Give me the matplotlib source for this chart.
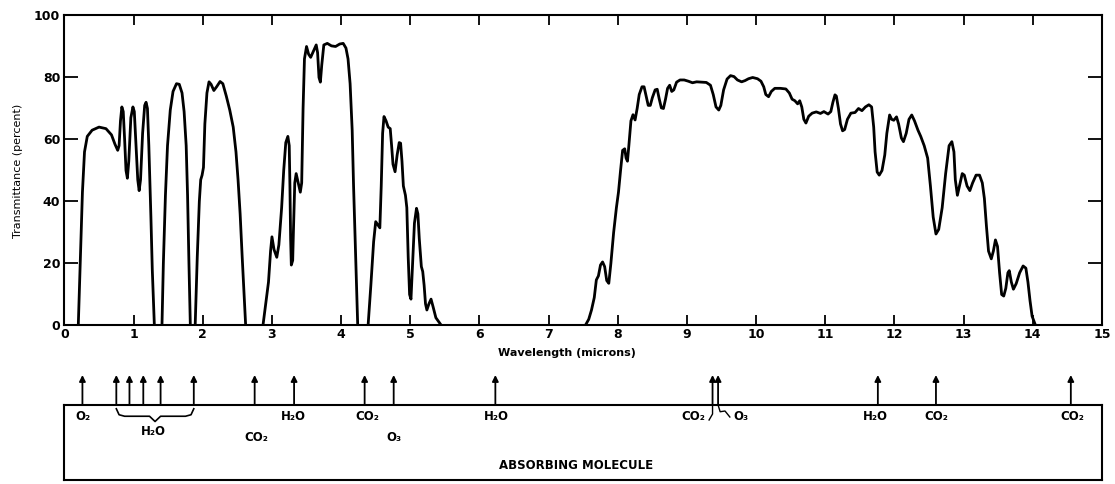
import matplotlib.pyplot as plt

# transmittance curve (wavelength in microns, percent)
wavelength = [
    0.20, 0.23, 0.26, 0.29, 0.33, 0.40, 0.50, 0.60, 0.68, 0.73, 0.77, 0.79, 0.81, 0.83, 0.85, 0.87,
    0.89, 0.91, 0.93, 0.96, 0.99, 1.01, 1.03, 1.06, 1.08, 1.10, 1.13, 1.16, 1.18, 1.20, 1.22, 1.25,
    1.27, 1.30, 1.41, 1.43, 1.46, 1.49, 1.53, 1.57, 1.62, 1.66, 1.70, 1.73, 1.76, 1.78, 1.80, 1.82,
    1.89, 1.92, 1.95, 1.97, 1.99, 2.01, 2.03, 2.06, 2.09, 2.12, 2.16, 2.20, 2.25, 2.29, 2.34, 2.39,
    2.44, 2.48, 2.51, 2.54, 2.57, 2.60, 2.62, 2.87, 2.91, 2.95, 2.98, 3.00, 3.03, 3.07, 3.10, 3.14,
    3.17, 3.20, 3.23, 3.25, 3.26, 3.27, 3.28, 3.30, 3.31, 3.33, 3.35, 3.38, 3.41, 3.43, 3.45, 3.47,
    3.50, 3.53, 3.56, 3.60, 3.64, 3.66, 3.68, 3.70, 3.72, 3.75, 3.80, 3.86, 3.92, 3.98, 4.03, 4.07,
    4.10, 4.13, 4.16, 4.18, 4.21, 4.24, 4.39, 4.43, 4.47, 4.50, 4.53, 4.56, 4.58, 4.60, 4.62, 4.65,
    4.68, 4.71, 4.73, 4.75, 4.78, 4.81, 4.84, 4.86, 4.88, 4.90, 4.93, 4.95, 4.97, 4.99, 5.01, 5.03,
    5.06, 5.09, 5.11, 5.13, 5.16, 5.18, 5.20, 5.22, 5.24, 5.27, 5.30, 5.33, 5.37, 5.45, 7.53, 7.58,
    7.62, 7.66, 7.69, 7.72, 7.75, 7.78, 7.81, 7.84, 7.87, 7.90, 7.94, 7.98, 8.01, 8.04, 8.07, 8.10,
    8.12, 8.14, 8.16, 8.19, 8.22, 8.25, 8.28, 8.31, 8.35, 8.38, 8.41, 8.44, 8.47, 8.50, 8.54, 8.57,
    8.60, 8.63, 8.66, 8.69, 8.72, 8.75, 8.78, 8.81, 8.85, 8.90, 8.96, 9.02, 9.08, 9.14, 9.20, 9.28,
    9.34, 9.38, 9.42, 9.46, 9.49, 9.53, 9.58, 9.63, 9.68, 9.73, 9.79, 9.84, 9.89, 9.95, 10.02, 10.07,
    10.11, 10.14, 10.18, 10.22, 10.27, 10.35, 10.43, 10.48, 10.52, 10.56, 10.60, 10.63, 10.66, 10.69, 10.72, 10.76,
    10.81, 10.87, 10.93, 10.98, 11.04, 11.08, 11.11, 11.14, 11.16, 11.19, 11.22, 11.25, 11.28, 11.32, 11.37, 11.43,
    11.48, 11.53, 11.58, 11.63, 11.67, 11.70, 11.72, 11.75, 11.78, 11.82, 11.86, 11.89, 11.93, 11.96, 11.99, 12.03,
    12.06, 12.10, 12.13, 12.17, 12.21, 12.25, 12.29, 12.34, 12.38, 12.43, 12.48, 12.52, 12.56, 12.60, 12.64, 12.69,
    12.74, 12.79, 12.83, 12.86, 12.88, 12.91, 12.95, 12.98, 13.01, 13.05, 13.09, 13.13, 13.18, 13.23, 13.27, 13.30,
    13.33, 13.36, 13.40, 13.43, 13.46, 13.49, 13.52, 13.55, 13.58, 13.61, 13.64, 13.66, 13.69, 13.72, 13.76, 13.81,
    13.86, 13.90, 13.93, 13.96, 13.99, 14.04,
]
transmittance = [
    0, 22, 43, 56, 61, 63, 64, 63.5, 61.5, 58.5, 56.5, 58, 66, 70.5, 69, 60,
    50, 47.5, 53, 67, 70.5, 69, 60, 47, 43.5, 47, 62, 71, 72, 70, 58, 35,
    18, 0, 0, 20, 42, 58, 69.5, 75.5, 78, 77.8, 75, 69, 58, 42, 20, 0,
    0, 22, 40, 47, 48.5, 51, 65, 75, 78.6, 77.8, 75.8, 77, 78.7, 78, 74, 69.5,
    64, 56, 47, 36, 22, 9, 0, 0, 7, 14, 24, 28.6, 24.5, 22, 26, 38,
    50, 59, 61, 58, 45, 28, 19.5, 21, 30, 46, 49, 46, 43, 46, 70, 86,
    90, 87.5, 86.5, 88.5, 90.5, 88, 80, 78.5, 84, 90.5, 91, 90.2, 90, 90.8, 91, 89.5,
    86, 78, 63, 45, 22, 0, 0, 13, 27, 33.5, 32.5, 31.5, 45, 62, 67.4, 66,
    64, 63.5, 58, 52, 49.6, 55, 59, 58.8, 53, 45, 42, 38, 22, 10, 8.5, 18,
    33, 37.8, 36, 28, 19, 17.4, 13, 7, 5, 7, 8.5, 6, 2.5, 0, 0, 2,
    5, 9, 14.7, 16, 19.5, 20.5, 19, 14.5, 13.6, 20, 30, 38, 43, 50, 56.5, 57,
    54, 53, 58, 66, 68, 66.3, 70, 74.5, 77, 77, 74, 71, 71, 73.5, 76, 76.2,
    73, 70.2, 70, 73, 76.5, 77.5, 75.5, 76, 78.5, 79.2, 79.2, 78.8, 78.3, 78.6, 78.5, 78.4,
    77.5, 74.5, 70.5, 69.5, 71, 76, 79.5, 80.6, 80.3, 79.2, 78.6, 79, 79.6, 80, 79.6, 78.8,
    77, 74.5, 73.8, 75.5, 76.5, 76.5, 76.3, 75, 73, 72.5, 71.5, 72.5, 70.5, 66.5, 65.3, 67.5,
    68.5, 68.9, 68.4, 69, 68.2, 69, 72, 74.4, 74, 70, 65, 62.8, 63.2, 66.5, 68.5, 68.7,
    70, 69.3, 70.5, 71.2, 70.5, 64, 56, 49.5, 48.5, 50, 55, 62, 67.9, 66.5, 66.2, 67.3,
    65, 60.5, 59.3, 62, 66.5, 67.9, 66, 63, 61, 58, 54, 45, 35, 29.5, 31, 38,
    49, 58, 59.3, 56, 47, 42, 46, 49, 48.5, 45, 43.5, 46, 48.5, 48.5, 46, 41,
    32, 24, 21.5, 24, 27.6, 25.5, 17, 10, 9.5, 12, 17, 17.7, 14, 11.7, 13.5, 17,
    19.2, 18.5, 14, 8, 3, 0,
]

# absorption bands marked by arrows under the chart (microns)
band_positions = [0.26, 0.75, 0.94, 1.14, 1.39, 1.87, 2.75, 3.32, 4.34, 4.76,
                  6.23, 9.37, 9.45, 11.76, 12.60, 14.55]
molecule_names = ['O₂', 'H₂O', 'CO₂', 'H₂O', 'CO₂', 'O₃', 'H₂O', 'CO₂', 'O₃',
                  'H₂O', 'CO₂', 'CO₂']
molecule_x = [0.27, 1.28, 2.78, 3.31, 4.38, 4.77, 6.25, 9.09, 9.78, 11.73, 12.60, 14.57]
molecule_row = [0, 1, 2, 0, 0, 2, 0, 0, 0, 0, 0, 0]

row_y = {0: 0.84, 1: 0.65, 2: 0.57}
label_font = dict(fontsize=8.5, fontweight='bold', family='DejaVu Sans')

fig = plt.figure(figsize=(11.15, 4.84), dpi=100)

# main transmittance chart
ax = fig.add_axes([0.0578, 0.3275, 0.9305, 0.6405])
ax.plot(wavelength, transmittance, color='black', linewidth=2.0,
        solid_joinstyle='round', solid_capstyle='round')
ax.set_xlim(0, 15)
ax.set_ylim(0, 100)
ax.set_xticks(range(16))
ax.set_yticks(range(0, 101, 20))
ax.tick_params(direction='in', top=True, right=True, width=1.3, labelsize=9)
ax.tick_params(axis='x', length=7, pad=2)
ax.tick_params(axis='y', length=10, pad=3)
for lbl in ax.get_xticklabels() + ax.get_yticklabels():
    lbl.set_fontweight('bold')
for sp in ax.spines.values():
    sp.set_linewidth(1.5)

ax.set_ylabel('Transmittance (percent)', fontsize=8)
ax.yaxis.set_label_coords(-0.04, 0.5)
ax.set_xlabel('Wavelength (microns)', fontsize=8, fontweight='bold')
ax.xaxis.set_label_coords(0.484, -0.072)

# absorbing molecule box
box = fig.add_axes([0.0578, 1 - 480 / 484, 0.9305, 75 / 484])
box.set_xlim(0, 15)
box.set_ylim(0, 1)
box.set_xticks([])
box.set_yticks([])
for sp in box.spines.values():
    sp.set_linewidth(1.5)

for x in band_positions:
    box.annotate('', xy=(x, 1.40), xytext=(x, 1.0), annotation_clip=False,
                 arrowprops=dict(arrowstyle='-|>', color='black', lw=1.3,
                                 mutation_scale=9, shrinkA=0, shrinkB=0))

for name, x, row in zip(molecule_names, molecule_x, molecule_row):
    box.text(x, row_y[row], name, ha='center', va='center', **label_font)

# brace grouping the near-infrared water bands
x0, x1 = band_positions[1], band_positions[5]
xc = (x0 + x1) / 2
box.plot([x0, x0 + 0.04, x0 + 0.12, xc - 0.08, xc, xc + 0.08, x1 - 0.12, x1 - 0.04, x1],
         [0.95, 0.87, 0.85, 0.85, 0.78, 0.85, 0.85, 0.87, 0.95],
         color='black', lw=1.2)

# connectors for the CO2 / O3 pair near 9.4 microns
xa, xb = band_positions[11], band_positions[12]
box.plot([xa, xa, xa - 0.05], [1.0, 0.88, 0.80], color='black', lw=1.0)
box.plot([xb, xb + 0.03, xb + 0.1, xb + 0.17], [1.0, 0.91, 0.92, 0.84], color='black', lw=1.0)

box.text(7.4, 0.19, 'ABSORBING MOLECULE', ha='center', va='center', **label_font)

plt.savefig('out.png', dpi=100)
